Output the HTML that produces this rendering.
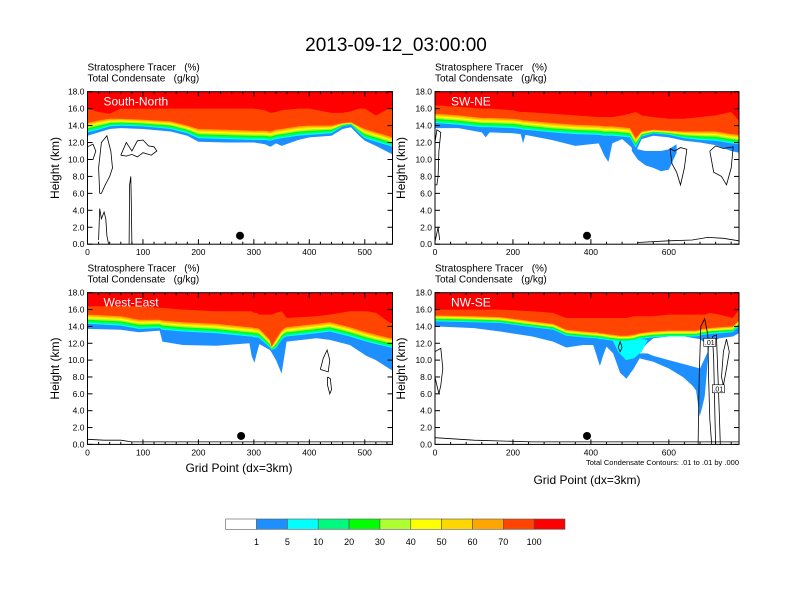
<!DOCTYPE html>
<html><head><meta charset="utf-8"><style>
html,body{margin:0;padding:0;background:#fff;}
svg{display:block;font-family:"Liberation Sans",sans-serif;}
.pre{white-space:pre;}
</style></head><body>
<svg id="chart" width="792" height="612" viewBox="0 0 792 612" xmlns="http://www.w3.org/2000/svg">
<text x="396" y="51" font-size="19" text-anchor="middle" fill="#000">2013-09-12_03:00:00</text>
</svg>
<script>
// ---- data (grid point, km) ----
const p1X=[0,20,40,60,100,150,180,200,250,300,320,330,340,350,380,400,440,460,475,490,500,520,550];
const p1Base=[12.8,13.2,13.6,13.7,13.6,13.3,12.8,12.1,12.0,12.0,11.8,11.5,11.9,11.6,12.3,12.6,12.8,13.6,13.8,12.8,12.2,11.6,10.6];
const p1Top=[14.3,14.6,14.8,14.8,14.7,14.5,14.0,13.6,13.5,13.4,13.4,13.3,13.5,13.6,13.9,14.0,14.0,14.3,14.4,13.9,13.6,13.2,12.6];
const p1Red=[16,15.6,15.4,16,16,16,16,16,16,16,15.8,15.5,15.6,15.8,16,16,15.5,15.5,15.7,16,16,15.2,16.2];

const p2X=[0,60,120,130,140,200,220,226,232,300,360,420,435,445,455,480,500,515,530,560,600,640,680,720,760,780];
const p2Base=[13.7,13.7,13.2,12.6,13.2,13.1,13.0,11.9,12.9,12.3,11.6,11.9,10.4,9.7,11.9,12.4,11.6,10.9,12.4,12.8,12.6,12.2,12.0,11.7,11.0,10.8];
const p2Top=[15.4,15.2,14.9,14.9,14.9,14.8,14.7,14.6,14.6,14.3,14.1,14.0,13.9,13.9,13.9,13.8,13.7,12.5,13.3,13.5,13.4,13.3,13.3,13.3,13.0,12.9];
const p2Red=[16.4,16.2,16.0,16,16,15.8,15.6,15.6,15.6,15.4,15.2,15.0,15.0,15.0,15,15.2,15.4,15.6,15.2,15.0,14.8,14.8,15.0,15.2,15.6,14.6];
const p2PlumeX=[505,520,540,560,580,600,620];
const p2PlumeTop=[11.5,11.2,11.0,11.0,11.0,11.2,11.8];
const p2PlumeBot=[11.0,10.0,9.3,9.0,8.6,8.8,10.8];

const p3X=[0,60,93,130,135,172,232,292,296,301,306,310,329,332,340,350,355,359,413,437,473,503,520,546,550];
const p3Base=[13.7,13.6,13.3,13.5,12.2,11.8,11.7,12.0,10.5,9.7,11.0,11.9,11.2,10.9,10.0,8.4,10.5,12.2,12.6,12.4,11.8,10.5,10.0,8.9,8.8];
const p3Top=[15.4,15.2,14.8,14.8,14.7,14.5,14.3,13.9,13.9,13.8,13.8,13.7,12.4,11.6,12.5,13.5,13.8,13.9,14.3,14.5,13.9,13.3,13.0,12.6,12.6];
const p3Red=[16.4,16.4,16.4,16.2,16.2,16,15.8,15.8,15.8,15.6,15.6,15.4,15.4,15.4,15.6,15.8,15.4,15.0,15.2,15.4,15.8,15.8,15.6,14.4,14.4];

const p4X=[0,100,167,250,303,337,380,406,415,423,431,440,457,475,491,510,525,560,600,636,660,670,679,686,692,704,730,764,780];
const p4Base=[14.0,13.8,13.4,12.8,12.2,11.5,11.8,11.8,10.5,9.3,10.5,11.6,10.8,8.5,7.8,9.0,10.2,9.8,9.0,8.0,7.0,6.4,3.3,4.5,5.7,12.0,12.6,12.8,13.2];
const p4Top=[15.3,15.2,15.1,14.6,14.3,13.6,13.4,13.3,13.3,13.2,13.2,13.1,13.0,12.9,12.9,13.0,13.2,13.4,13.5,13.5,13.5,13.5,13.6,13.7,13.7,13.8,13.9,14.0,14.7];
const p4Red=[16,16,16,15.8,15.6,15.0,15.0,15.0,15.0,15.0,15.0,15.0,15,15,15,15.2,15.2,15.2,15.4,15.4,15.4,15.4,15.4,15.4,15.4,15.6,15.4,15.0,16];
const p4HoleX=[525,545,560,600,640,680,700];
const p4HoleTop=[11.0,12.0,12.6,12.8,12.8,12.5,11.8];
const p4HoleBot=[10.8,10.8,10.5,10.0,9.5,9.0,11.0];
const p4CyanX=[455,470,490,510,530,545];
const p4CyanTop=[12.8,12.6,12.5,12.5,12.5,12.4];
const p4CyanBot=[12.4,11.0,10.0,10.2,11.0,12.3];

const p1Contours=[
 [[22,6],[20,9],[25,12],[35,12.8],[42,11],[45,9],[40,8],[32,7],[25,6],[22,6]],
 [[0,11.5],[10,11.8],[15,11],[10,10],[0,10]],
 [[60,10.5],[70,12],[80,11],[90,12.2],[100,12.3],[110,11.6],[120,11.5],[125,11],[115,10.5],[100,10.8],[90,10.3],[80,10.6],[70,10.4],[60,10.5]],
 [[75,0],[76,7],[78,8],[79,5],[80,0]],
 [[20,0.5],[22,4.2],[25,3],[30,3.8],[33,3],[35,1],[38,0]]
];
const p2Contours=[
 [[0,12],[5,13.5],[15,13.2],[10,11],[8,8],[5,7],[0,7]],
 [[603,11.3],[615,11.0],[630,11.4],[646,11.2],[640,9],[630,7.0],[620,8.5],[608,9.5],[603,11.3]],
 [[705,11.0],[720,11.6],[740,11.3],[765,11.5],[760,9],[748,7.0],[735,8],[715,8.5],[705,11.0]],
 [[0,0.3],[8,2.0],[12,0.5]],
 [[520,0.2],[600,0.4],[660,0.5],[700,0.8],[740,0.7],[780,0.4]]
];
const p3Contours=[
 [[420,8.9],[425,10.2],[432,11.2],[437,10.0],[434,8.6],[420,8.9]],
 [[433,8.0],[438,7.8],[440,6.5],[437,6.0],[433,7.0],[433,8.0]],
 [[0,0.6],[30,0.5],[60,0.5],[80,0.3],[550,0.3]]
];
const p4Contours=[
 [[0,11],[15,11.4],[20,9],[15,7],[10,6],[5,7],[0,8]],
 [[0,0.8],[100,0.5],[250,0.3],[780,0.3]],
 [[675,0],[678,8],[682,14.0],[692,14.9],[700,13],[702,8],[705,3],[710,0]],
 [[720,0],[718,4],[715,10],[712,12.8],[722,13],[726,8],[730,3],[732,0]],
 [[735,8],[740,11],[748,12.5],[755,11],[748,9],[740,7],[735,8]],
 [[470,11.5],[475,12.2],[480,11.5],[475,11.0],[470,11.5]]
];

const dotX=[275,390,277,390];
const levels=[1,5,10,20,30,40,50,60,70,100];
const cbColors=["#ffffff","#1e8fff","#00ffff","#00fa80","#00ff00","#adff2f","#ffff00","#ffd700","#ffa500","#ff4500","#ff0000"];
const cbLabels=["1","5","10","20","30","40","50","60","70","100"];

const NS="http://www.w3.org/2000/svg";
const svg=document.getElementById('chart');
function mk(tag,attrs,parent){const e=document.createElementNS(NS,tag);for(const k in attrs)e.setAttribute(k,attrs[k]);(parent||svg).appendChild(e);return e;}

const panels=[
 {name:'south-north',label:'South-North',x0:87.5,y0:91.7,w:305,h:152.5,xmax:550,major:100,minor:20,X:p1X,B:p1Base,T:p1Top,R:p1Red,C:p1Contours,yt:59},
 {name:'sw-ne',label:'SW-NE',x0:435,y0:91.7,w:304,h:152.5,xmax:780,major:200,minor:40,X:p2X,B:p2Base,T:p2Top,R:p2Red,C:p2Contours,yt:405},
 {name:'west-east',label:'West-East',x0:87.5,y0:292.7,w:305,h:151.7,xmax:550,major:100,minor:20,X:p3X,B:p3Base,T:p3Top,R:p3Red,C:p3Contours,yt:59},
 {name:'nw-se',label:'NW-SE',x0:435,y0:292.7,w:304,h:151.7,xmax:780,major:200,minor:40,X:p4X,B:p4Base,T:p4Top,R:p4Red,C:p4Contours,yt:405}
];

function polyBetween(sx,sy,xs,top,bot){
  let pts=[];
  for(let i=0;i<xs.length;i++)pts.push(sx(xs[i]).toFixed(1)+','+sy(top[i]).toFixed(1));
  for(let i=xs.length-1;i>=0;i--)pts.push(sx(xs[i]).toFixed(1)+','+sy(bot[i]).toFixed(1));
  return pts.join(' ');
}

panels.forEach((p,pi)=>{
  const g=mk('g',{});
  
  
  const sx=v=>p.x0+v/p.xmax*p.w;
  const sy=v=>p.y0+p.h-v/18*p.h;
  const clipId='clip'+pi;
  const cp=mk('clipPath',{id:clipId},g);
  mk('rect',{x:p.x0,y:p.y0,width:p.w,height:p.h},cp);
  const plot=mk('g',{'clip-path':'url(#'+clipId+')'},g);
  
  
  const thick=(pi===3)?0.7:1.1;
  const inner=p.B.map((b,i)=>Math.min(p.T[i],Math.max(b+0.3,p.T[i]-thick)));
  const fr=[0.12,0.3,0.45,0.6,0.72,0.85];
  const bounds=[p.B,inner];
  fr.forEach(f=>bounds.push(inner.map((v,i)=>v+(p.T[i]-v)*f)));
  bounds.push(p.T);bounds.push(p.R);
  const full=p.X.map(()=>18.5);
  bounds.forEach((b,k)=>{
    const poly=mk('polygon',{points:polyBetween(sx,sy,p.X,full,b),fill:cbColors[k+1]},plot);
    
    
    if(k===0){
      if(pi===1){
        const pl=mk('polygon',{points:polyBetween(sx,sy,p2PlumeX,p2PlumeTop,p2PlumeBot),fill:cbColors[1]},plot);
        
        
      }
      if(pi===3){
        const ho=mk('polygon',{points:polyBetween(sx,sy,p4HoleX,p4HoleTop,p4HoleBot),fill:'#fff'},plot);
        
        
        const cy=mk('polygon',{points:polyBetween(sx,sy,p4CyanX,p4CyanTop,p4CyanBot),fill:cbColors[2]},plot);
        
        
      }
    }
  });
  p.C.forEach((c,ci)=>{
    const pl=mk('polyline',{points:c.map(q=>sx(q[0]).toFixed(1)+','+sy(q[1]).toFixed(1)).join(' '),fill:'none',stroke:'#000','stroke-width':0.8},plot);
    
    
  });
  if(pi===3){
    [[705,12.1],[727,6.6]].forEach(q=>{
      const r=mk('rect',{x:sx(q[0])-6,y:sy(q[1])-4,width:12,height:8,fill:'#fff',stroke:'#000','stroke-width':0.6},plot);
      
      
      const t=mk('text',{x:sx(q[0]),y:sy(q[1])+2.5,'font-size':7,'text-anchor':'middle'},plot);
      t.textContent='.01';
      
      
    });
  }
  const dot=mk('circle',{cx:sx(dotX[pi]),cy:sy(1.0),r:4,fill:'#000'},plot);
  
  
  const lb=mk('text',{x:p.x0+16,y:p.y0+14,'font-size':12,fill:'#fff'},g);
  lb.textContent=p.label;
  
  
  const fr2=mk('rect',{x:p.x0,y:p.y0,width:p.w,height:p.h,fill:'none',stroke:'#000','stroke-width':1},g);
  
  
  for(let v=0;v<=18;v+=2){
    const y=sy(v);
    mk('line',{x1:p.x0,x2:p.x0+5,y1:y,y2:y,stroke:'#000','stroke-width':1},g);
    mk('line',{x1:p.x0+p.w,x2:p.x0+p.w-5,y1:y,y2:y,stroke:'#000','stroke-width':1},g);
    const t=mk('text',{x:p.x0-3,y:y+3,'font-size':8.5,'text-anchor':'end'},g);
    t.textContent=v.toFixed(1);
    
    
  }
  for(let v=0;v<=p.xmax;v+=p.minor){
    const x=sx(v);const maj=(v%p.major===0);const L=maj?5:2.5;
    mk('line',{x1:x,x2:x,y1:p.y0+p.h,y2:p.y0+p.h-L,stroke:'#000','stroke-width':1},g);
    mk('line',{x1:x,x2:x,y1:p.y0,y2:p.y0+L,stroke:'#000','stroke-width':1},g);
    if(maj){
      const t=mk('text',{x:x,y:p.y0+p.h+11,'font-size':8.5,'text-anchor':'middle'},g);
      t.textContent=String(v);
      
      
    }
  }
  const h1=mk('text',{x:p.x0,y:p.y0-21,'font-size':10,'class':'pre'},g);
  h1.textContent='Stratosphere Tracer   (%)';
  
  
  const h2=mk('text',{x:p.x0,y:p.y0-10,'font-size':10,'class':'pre'},g);
  h2.textContent='Total Condensate   (g/kg)';
  
  
  const yc=p.y0+p.h/2;
  const yt=mk('text',{x:p.yt,y:yc,'font-size':12,'text-anchor':'middle',transform:'rotate(-90 '+p.yt+' '+yc+')'},g);
  yt.textContent='Height (km)';
  
  
});

[[239,472],[587,484]].forEach(q=>{
  const t=mk('text',{x:q[0],y:q[1],'font-size':12,'text-anchor':'middle'});
  t.textContent='Grid Point (dx=3km)';
  
  
});
const note=mk('text',{x:739,y:465,'font-size':7.5,'text-anchor':'end'});
note.textContent='Total Condensate Contours: .01 to .01 by .000';



const cb=mk('g',{});


const cbx=225.7,cbw=(565-225.7)/11;
cbColors.forEach((c,i)=>{
  const r=mk('rect',{x:cbx+i*cbw,y:519,width:cbw,height:10.3,fill:c,stroke:'#555','stroke-width':0.6},cb);
  
  
});
cbLabels.forEach((l,i)=>{
  const t=mk('text',{x:cbx+(i+1)*cbw,y:545,'font-size':9,'text-anchor':'middle'},cb);
  t.textContent=l;
  
  
});
</script>
</body></html>
